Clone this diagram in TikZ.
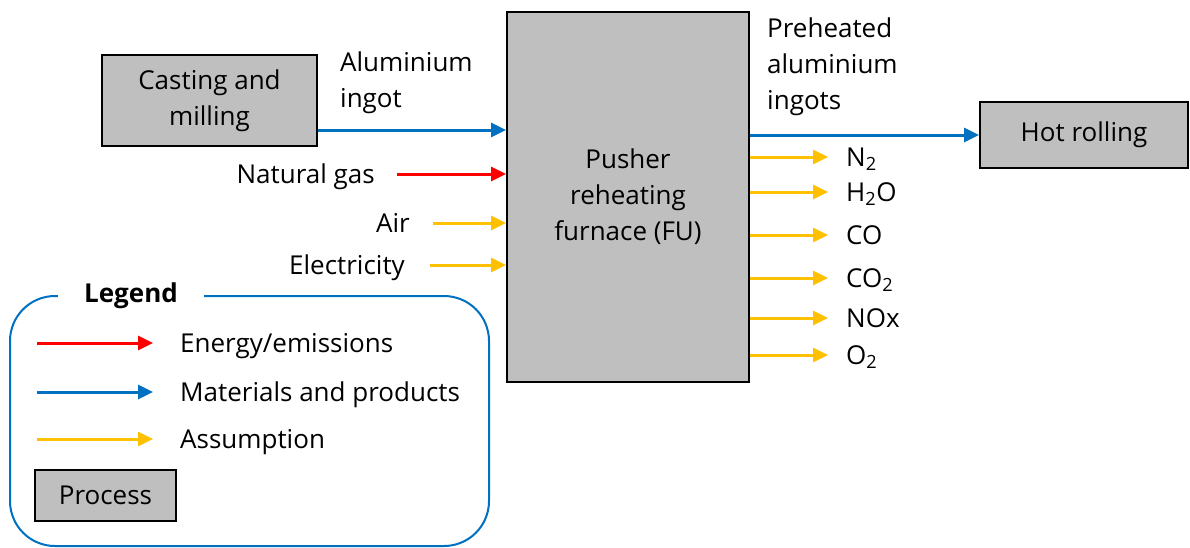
\documentclass[tikz,border=0pt]{standalone}
\usepackage{fontspec}
\setmainfont{Open Sans}
\usetikzlibrary{positioning,arrows.meta}
\definecolor{flowred}{HTML}{FF0000}
\definecolor{flowblue}{HTML}{0070C0}
\definecolor{flowyellow}{HTML}{FFC000}
\definecolor{procgray}{HTML}{BFBFBF}

\begin{document}
\begin{tikzpicture}[x=1pt,y=-1pt,font=\fontsize{26}{36}\selectfont,
  proc/.style={draw=black,line width=2pt,fill=procgray,align=center,inner sep=0pt},
  lbl/.style={inner sep=0pt,text height=18.5pt,text depth=0pt},
  flow/.style={line width=3pt,-{Triangle[length=15pt,width=14pt]}},
  redflow/.style={flow,flowred},
  blueflow/.style={flow,flowblue},
  yelflow/.style={flow,flowyellow}]
\useasboundingbox (0,0) rectangle (1190,547);

% process boxes
\node[proc,minimum width=215pt,minimum height=91pt] (cast) at (209.5,100.5) {Casting and\\milling};
\node[proc,minimum width=242pt,minimum height=370pt] (furnace) at (628,197) {Pusher\\reheating\\furnace (FU)};
\node[proc,minimum width=208pt,minimum height=66pt] (hot) at (1084,135) {Hot rolling};

% inputs
\node[anchor=north west,align=left,inner sep=0pt] (ingotlbl) at (340,52) {Aluminium\\ingot};
\draw[blueflow] ([yshift=-29.5pt]cast.east) coordinate (ingot) -- (ingot -| furnace.west);
\node[lbl,anchor=east] (natgas) at (375,174) {Natural gas};
\draw[redflow] ([xshift=22pt]natgas.east) -- (natgas.east -| furnace.west);
\node[lbl,anchor=east] (air) at (410,223) {Air};
\draw[yelflow] ([xshift=23pt]air.east) -- (air.east -| furnace.west);
\node[lbl,anchor=east] (elec) at (405,265) {Electricity};
\draw[yelflow] ([xshift=25pt]elec.east) -- (elec.east -| furnace.west);

% outputs
\node[anchor=north west,align=left,inner sep=0pt] (prelbl) at (767,18) {Preheated\\aluminium\\ingots};
\draw[blueflow] (hot.west -| furnace.east) -- (hot.west);
\foreach \y/\gas [count=\i] in {157/N\textsubscript{2},192/H\textsubscript{2}O,235/CO,278/CO\textsubscript{2},318/NOx,355/O\textsubscript{2}}{
  \node[lbl,anchor=west] (gas\i) at (846,\y) {\gas};
  \draw[yelflow] (gas\i.west -| furnace.east) -- ([xshift=-18pt]gas\i.west);
}

% legend
\draw[flowblue,line width=2pt,rounded corners=45pt] (10,296) rectangle (489,546);
\node[fill=white,inner xsep=26pt,inner ysep=2pt] (legtitle) at (131,296) {\textbf{Legend}};
\node[lbl,anchor=west] (legE) at (180,343) {Energy/emissions};
\draw[redflow] ([xshift=-143pt]legE.west) -- ([xshift=-27pt]legE.west);
\node[lbl,anchor=west] (legM) at (180,392) {Materials and products};
\draw[blueflow] ([xshift=-143pt]legM.west) -- ([xshift=-27pt]legM.west);
\node[lbl,anchor=west] (legA) at (180,439) {Assumption};
\draw[yelflow] ([xshift=-143pt]legA.west) -- ([xshift=-27pt]legA.west);
\node[proc,minimum width=141pt,minimum height=51pt] (legP) at (105.5,495.5) {Process};
\end{tikzpicture}
\end{document}
